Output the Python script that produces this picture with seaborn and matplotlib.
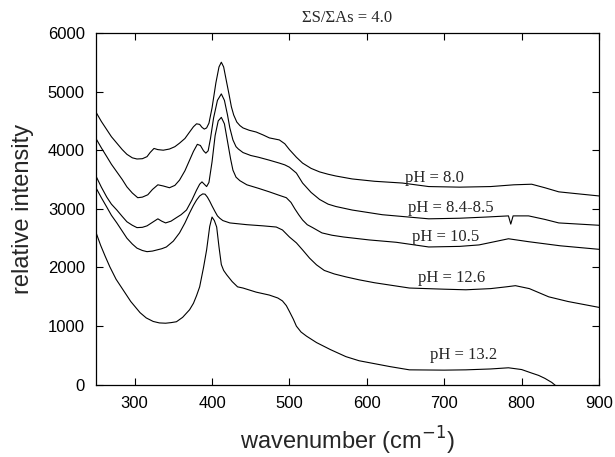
import matplotlib
matplotlib.use("Agg")
import matplotlib.pyplot as plt
import seaborn as sns
import pandas as pd

# ---- data ----
wn_ph80 = [250, 257, 264, 270, 277, 284, 290, 297, 303, 310, 316, 320, 325, 330, 337, 345, 352, 358, 365, 371,
           376, 380, 384, 387, 390, 393, 396, 400, 405, 409, 412, 415, 419, 422, 425, 428, 432, 436, 440, 448,
           457, 466, 474, 487, 494, 500, 509, 517, 528, 539, 550, 560, 581, 610, 646, 680, 720, 760, 790, 813,
           830, 848, 870, 900]
int_ph80 = [4650, 4490, 4350, 4230, 4120, 4010, 3930, 3870, 3850, 3855, 3890, 3960, 4030, 4010, 4000, 4020, 4060,
            4120, 4200, 4310, 4400, 4450, 4440, 4390, 4360, 4380, 4460, 4720, 5150, 5420, 5500, 5420, 5150, 4950,
            4740, 4600, 4480, 4420, 4380, 4340, 4310, 4260, 4210, 4175, 4110, 4010, 3880, 3780, 3690, 3630, 3590,
            3560, 3510, 3470, 3440, 3380, 3370, 3380, 3410, 3420, 3360, 3290, 3260, 3220]

wn_ph84 = [250, 257, 264, 270, 277, 284, 290, 297, 304, 310, 317, 323, 330, 337, 345, 352, 358, 365, 371, 376,
           381, 385, 389, 392, 395, 398, 402, 407, 412, 416, 420, 423, 427, 431, 434, 440, 450, 460, 474, 487,
           494, 500, 509, 517, 528, 539, 550, 560, 581, 620, 680, 720, 754, 783, 786, 789, 809, 830, 848, 900]
int_ph84 = [4200, 4040, 3890, 3760, 3630, 3500, 3375, 3270, 3190, 3200, 3240, 3330, 3410, 3390, 3360, 3400, 3490,
            3650, 3830, 3980, 4100, 4080, 3990, 3950, 3990, 4200, 4550, 4850, 4960, 4850, 4600, 4380, 4175, 4060,
            4020, 3960, 3910, 3880, 3830, 3780, 3750, 3710, 3610, 3440, 3280, 3160, 3080, 3040, 2980, 2900, 2830,
            2840, 2860, 2880, 2740, 2880, 2880, 2820, 2760, 2720]

wn_ph105 = [250, 257, 264, 270, 277, 284, 290, 297, 303, 310, 316, 323, 330, 335, 340, 347, 354, 360, 367, 374,
            380, 384, 387, 390, 393, 396, 400, 404, 408, 412, 416, 420, 424, 427, 431, 436, 445, 460, 474, 487,
            496, 502, 507, 512, 517, 523, 530, 542, 555, 570, 603, 638, 680, 720, 745, 765, 783, 809, 850, 900]
int_ph105 = [3560, 3370, 3200, 3080, 2980, 2870, 2780, 2720, 2680, 2685, 2710, 2770, 2830, 2790, 2760, 2790, 2850,
             2900, 2980, 3150, 3320, 3420, 3460, 3420, 3380, 3450, 3800, 4250, 4500, 4560, 4450, 4150, 3850, 3660,
             3540, 3480, 3410, 3350, 3290, 3230, 3190, 3110, 3000, 2900, 2810, 2730, 2680, 2590, 2550, 2520, 2470,
             2430, 2350, 2360, 2385, 2440, 2490, 2440, 2370, 2310]

wn_ph126 = [250, 257, 264, 270, 277, 284, 290, 297, 303, 310, 316, 323, 329, 335, 341, 350, 358, 365, 371, 376,
            380, 384, 388, 391, 394, 397, 400, 404, 407, 410, 414, 423, 445, 466, 483, 491, 500, 509, 517, 526,
            535, 545, 558, 573, 590, 610, 630, 655, 700, 728, 760, 780, 792, 810, 835, 860, 900]
int_ph126 = [3360, 3190, 3030, 2890, 2760, 2620, 2500, 2400, 2330, 2290, 2270, 2280, 2300, 2320, 2350, 2450, 2590,
             2760, 2930, 3060, 3150, 3220, 3255, 3250, 3200, 3130, 3050, 2950, 2880, 2840, 2800, 2760, 2730, 2710,
             2690, 2640, 2520, 2420, 2300, 2160, 2045, 1950, 1890, 1840, 1790, 1740, 1700, 1650, 1630, 1620, 1640,
             1670, 1690, 1640, 1500, 1420, 1320]

wn_ph132 = [250, 256, 262, 268, 276, 285, 295, 307, 315, 324, 332, 340, 347, 354, 362, 371, 376, 380, 384, 389,
            393, 397, 400, 403, 406, 409, 412, 415, 419, 426, 433, 440, 457, 474, 485, 491, 496, 500, 505, 509,
            515, 522, 535, 553, 573, 590, 610, 630, 655, 700, 728, 760, 783, 800, 813, 822, 830, 839, 850]
int_ph132 = [2600, 2380, 2190, 2010, 1800, 1620, 1420, 1230, 1140, 1080, 1055, 1050, 1060, 1075, 1150, 1280, 1390,
             1520, 1670, 2000, 2300, 2700, 2860, 2800, 2690, 2350, 2050, 1950, 1875, 1760, 1670, 1650, 1580, 1530,
             1480, 1430, 1350, 1250, 1120, 1000, 900, 830, 720, 600, 480, 410, 360, 310, 255, 250, 255, 270, 290,
             260, 200, 160, 110, 40, -80]

labels = ["pH = 8.0", "pH = 8.4-8.5", "pH = 10.5", "pH = 12.6", "pH = 13.2"]
label_x = [687, 709, 702, 709, 725]
label_y = [3530, 3020, 2520, 1825, 510]

x_ticks = [300, 400, 500, 600, 700, 800, 900]
y_ticks = [0, 1000, 2000, 3000, 4000, 5000, 6000]

series = [(wn_ph80, int_ph80), (wn_ph84, int_ph84), (wn_ph105, int_ph105),
          (wn_ph126, int_ph126), (wn_ph132, int_ph132)]

frames = []
for lab, (xs, ys) in zip(labels, series):
    frames.append(pd.DataFrame({"wavenumber": xs, "intensity": ys, "sample": lab}))
df = pd.concat(frames, ignore_index=True)

# ---- plot ----
sns.set_style("ticks")
plt.rcParams["font.family"] = ["Liberation Sans", "DejaVu Sans"]

fig, ax = plt.subplots(figsize=(6.15, 4.57), dpi=100)
fig.subplots_adjust(left=0.156, right=0.974, top=0.928, bottom=0.158)

sns.lineplot(data=df, x="wavenumber", y="intensity", units="sample", estimator=None,
             color="black", linewidth=0.8, sort=False, ax=ax, legend=False)

for t, lx, ly in zip(labels, label_x, label_y):
    ax.text(lx, ly, t, ha="center", va="center", fontsize=12,
            family=["Liberation Serif", "DejaVu Serif"])

ax.set_xlim(250, 900)
ax.set_ylim(0, 6000)
ax.set_xticks(x_ticks)
ax.set_yticks(y_ticks)
ax.tick_params(direction="in", length=5, width=0.8, top=True, right=True,
               labelsize=12, colors="black", pad=8)
for s in ax.spines.values():
    s.set_visible(True)
    s.set_linewidth(0.9)
    s.set_color("black")

ax.set_xlabel("wavenumber (cm$^{-1}$)", fontsize=17, labelpad=10)
ax.set_ylabel("relative intensity", fontsize=17, labelpad=10)
ax.set_title("ΣS/ΣAs = 4.0", fontsize=12, family=["Liberation Serif", "DejaVu Serif"], pad=8)

fig.savefig("out.png", dpi=100)
